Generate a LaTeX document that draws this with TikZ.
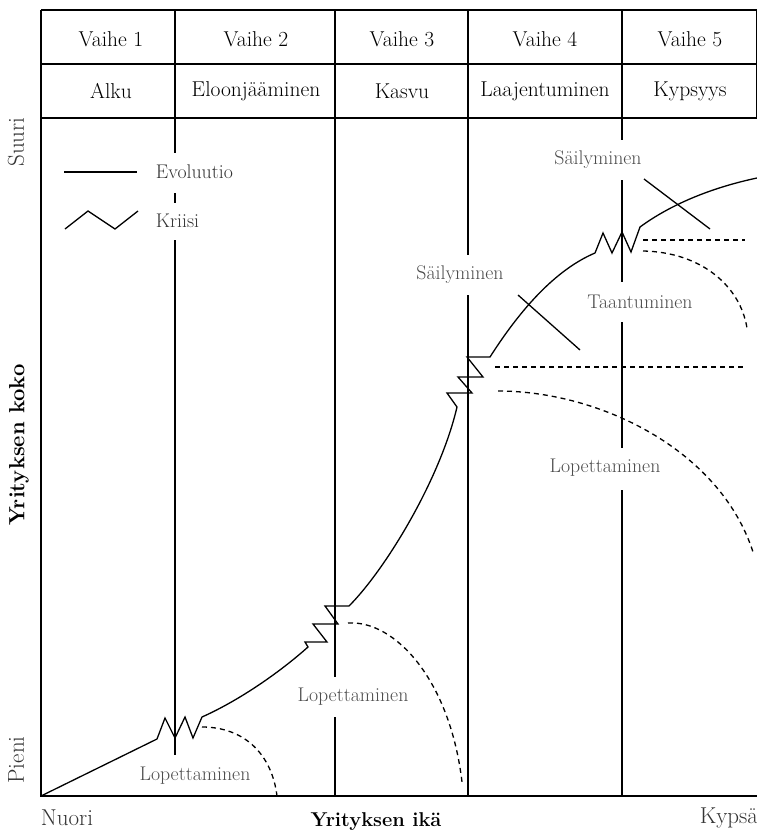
\documentclass[tikz,border=0pt]{standalone}
\begin{document}
\begin{tikzpicture}[x=1pt,y=-1pt,line width=1.3pt,
    hdr/.style={font=\fontsize{21.5}{24}\selectfont},
    lbl/.style={font=\fontsize{19.8}{22}\selectfont,text=black!70},
    axislbl/.style={font=\fontsize{23}{25}\selectfont,text=black!80},
    dashline/.style={dash pattern=on 5pt off 4pt}]
    % define variables.
    \def\xa{41}
    \def\xb{175}
    \def\xc{335}
    \def\xd{468}
    \def\xe{622}
    \def\xf{757}
    \useasboundingbox (0,0) rectangle (757,832);
    % draw the table
    \draw (\xa,10) -- (\xf,10);
    \draw (\xa,64) -- (\xf,64);
    \draw (\xa,118) -- (\xf,118);
    \draw (\xf,10) -- (\xf,118);
    \draw (\xb,10) -- (\xb,118);
    \draw (\xc,10) -- (\xc,118);
    \draw (\xd,10) -- (\xd,118);
    \draw (\xe,10) -- (\xe,118);
    \node[hdr] (v1) at (111,39) {Vaihe 1};
    \node[hdr] (v2) at (256,39) {Vaihe 2};
    \node[hdr] (v3) at (402,39) {Vaihe 3};
    \node[hdr] (v4) at (545,39) {Vaihe 4};
    \node[hdr] (v5) at (690,39) {Vaihe 5};
    \node[hdr] (alku) at (111,91) {Alku};
    \node[hdr] (eloon) at (256,91) {Eloonjääminen};
    \node[hdr] (kasvu) at (402,91) {Kasvu};
    \node[hdr] (laaj) at (545,91) {Laajentuminen};
    \node[hdr] (kyps) at (690,91) {Kypsyys};
    % draw the axes
    \draw (\xa,10) -- (\xa,796) -- (\xf,796);
    % draw the phase lines
    \draw (\xb,118) -- (\xb,153);
    \draw (\xb,193) -- (\xb,203);
    \draw (\xb,240) -- (\xb,755);
    \draw (\xc,118) -- (\xc,677);
    \draw (\xc,717) -- (\xc,796);
    \draw (\xd,118) -- (\xd,255);
    \draw (\xd,295) -- (\xd,796);
    \draw (\xe,118) -- (\xe,140);
    \draw (\xe,180) -- (\xe,282);
    \draw (\xe,322) -- (\xe,448);
    \draw (\xe,490) -- (\xe,796);
    % draw the legend
    \draw (64,172) -- (137,172);
    \draw (65,229) -- (88,211) -- (115,229) -- (138,211);
    \node[lbl,text=black!80,anchor=west] (evo) at (152,172) {Evoluutio};
    \node[lbl,text=black!80,anchor=west] (kri) at (152,221) {Kriisi};
    % draw the growth curve
    \draw[line join=miter] (\xa,796) -- (157,739) -- (165,718) -- (175,738)
        -- (185,717) -- (193,738) -- (202,717)
        .. controls (240,700) and (280,672) .. (308,647)
        -- (305,642) -- (327,642) -- (313,624) -- (338,624) -- (325,606) -- (349,606)
        .. controls (385,570) and (440,480) .. (457,407)
        -- (447,393) -- (472,393) -- (458,377) -- (483,377) -- (467,357) -- (490,357)
        .. controls (520,310) and (555,270) .. (595,253)
        -- (603,233) -- (612,253) -- (622,232) -- (631,252) -- (640,227)
        .. controls (670,205) and (710,188) .. (757,178);
    % draw the dashed endings
    \draw[dashline] (202,727) .. controls (245,727) and (272,755) .. (277,796);
    \draw[dashline] (348,623) .. controls (395,620) and (450,680) .. (462,782);
    \draw[dashline] (495,367) -- (743,367);
    \draw[dashline] (498,391) .. controls (600,391) and (720,450) .. (753,552);
    \draw[dashline] (643,240) -- (745,240);
    \draw[dashline] (643,251) .. controls (700,252) and (740,285) .. (747,328);
    % draw the crosses
    \draw (518,295) -- (580,350);
    \draw (644,179) -- (710,229);
    % draw the labels
    \node[lbl] (lop1) at (195,776) {Lopettaminen};
    \node[lbl] (lop2) at (353,697) {Lopettaminen};
    \node[lbl] (sai1) at (460,275) {Säilyminen};
    \node[lbl] (sai2) at (598,160) {Säilyminen};
    \node[lbl] (taan) at (640,302) {Taantuminen};
    \node[lbl] (lop3) at (605,468) {Lopettaminen};
    \node[axislbl,rotate=90] (suuri) at (16,142) {Suuri};
    \node[axislbl,rotate=90] (pieni) at (16,760) {Pieni};
    \node[font=\fontsize{22}{24}\selectfont\bfseries,rotate=90] (koko) at (19,445) {Yrityksen koko};
    \node[axislbl,anchor=west] (nuori) at (37,818) {Nuori};
    \node[font=\fontsize{20}{22}\selectfont\bfseries] (ika) at (376,822) {Yrityksen ikä};
    \node[axislbl,anchor=east] (kypsa) at (762,818) {Kypsä};
\end{tikzpicture}
\end{document}
